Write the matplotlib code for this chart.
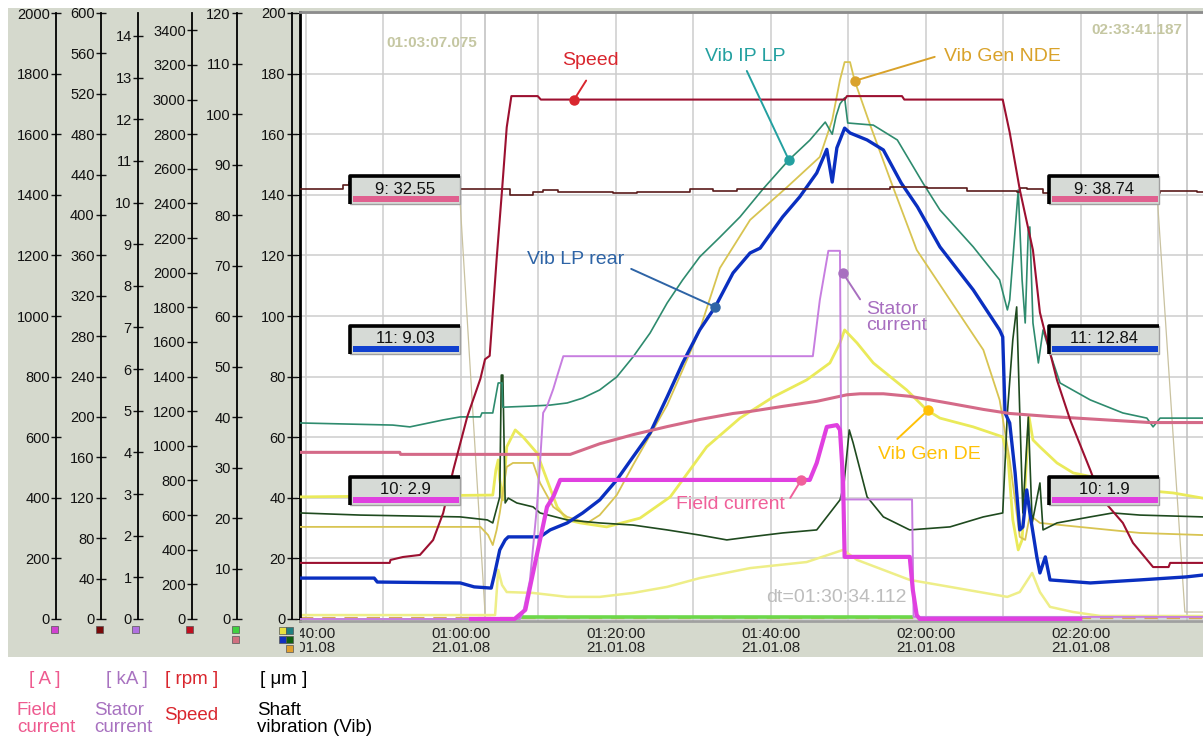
import numpy as np
import matplotlib
matplotlib.use("Agg")
import matplotlib.pyplot as plt
from matplotlib.patches import Rectangle
import matplotlib.transforms as mtransforms
from matplotlib.ticker import FuncFormatter

plt.rcParams['font.family'] = ['Liberation Sans', 'DejaVu Sans']

# ---------------- data (time in minutes after 00:00 on 21.01.08) ----------------
speed_t = [39.2, 50.8, 50.9, 52.5, 54.7, 56.4, 57.7, 59.0, 60.8, 62.5, 63.1, 63.7, 64.6, 65.3,
           65.9, 66.5, 69.9, 70.3, 109.5, 109.8, 116.9, 117.2, 129.9, 130.8, 132.1, 133.8,
           134.7, 136.9, 138.6, 141.2, 142.5, 145.4, 146.7, 149.3, 151.3, 151.5, 155.7]
speed_rpm = [324, 324, 341, 358, 370, 456, 612, 860, 1167, 1387, 1500, 1520, 2080, 2480,
             2840, 3020, 3020, 3000, 3000, 3020, 3020, 3000, 3000, 2810, 2480, 2130,
             1770, 1380, 1150, 860, 705, 555, 440, 300, 300, 324, 324]

ch2_t = [39.2, 43.5, 44.8, 45.5, 59.9, 66.3, 68.9, 69.3, 70.6, 72.5, 79.6, 82.7, 89.5, 92.5,
         95.6, 115.4, 120.1, 125.3, 131.7, 132.1, 133.0, 135.1, 150.2, 155.0, 155.7]
ch2_v = [426, 426, 430, 433, 426, 420, 420, 423, 425, 423, 422, 423, 426, 424,
         426, 428, 427, 424, 423, 427, 426, 422, 424, 423, 423]

ch9_t = [39.2, 52.1, 52.2, 74.1, 77.9, 82.2, 86.6, 90.8, 95.1, 97.3, 101.5, 105.9, 109.8,
         111.5, 114.5, 117.9, 123.1, 127.4, 130.8, 136.0, 140.3, 144.6, 148.9, 155.7]
ch9_v = [33.0, 33.0, 32.6, 32.6, 34.7, 36.5, 38.1, 39.5, 40.7, 41.1, 42.1, 43.1, 44.4,
         44.6, 44.6, 44.1, 42.7, 41.5, 40.7, 40.1, 39.7, 39.3, 38.9, 38.9]

iplp_t = [39.2, 51.2, 53.4, 56.4, 57.7, 59.9, 62.5, 62.7, 64.1, 64.8, 65.3, 65.4, 69.3, 71.5,
          73.7, 75.7, 77.9, 80.1, 82.2, 84.4, 86.6, 88.6, 90.8, 93.4, 96.0, 99.0, 102.3,
          105.0, 107.0, 107.9, 108.4, 108.9, 109.5, 109.9, 113.2, 116.3, 119.6, 121.8, 126.1,
          129.5, 130.5, 130.8, 131.5, 131.9, 132.4, 132.8, 133.2, 133.4, 133.8, 134.5, 135.1,
          136.0, 137.3, 141.2, 145.4, 148.5, 149.3, 150.2, 155.7]
iplp_v = [64.7, 64.0, 63.4, 65.0, 65.7, 66.7, 66.7, 68.0, 68.0, 77.9, 77.9, 69.9, 70.3, 70.6,
          71.3, 72.9, 75.6, 79.9, 86.5, 94.4, 104.3, 111.9, 119.5, 126.0, 132.7, 142.0, 151.5,
          158.0, 164.0, 160.0, 166.0, 170.0, 172.0, 163.7, 163.0, 158.1, 143.9, 135.0, 122.8,
          111.9, 102.0, 105.3, 128.4, 141.6, 111.9, 97.7, 128.4, 129.4, 97.7, 84.5, 95.4,
          87.8, 77.9, 72.3, 68.0, 66.3, 63.4, 66.3, 66.3]

dg_t = [39.2, 47.0, 59.9, 63.4, 64.1, 65.0, 65.2, 65.4, 65.7, 66.1, 67.2, 69.3, 70.2, 73.7,
        77.9, 82.2, 86.6, 90.8, 94.3, 97.3, 101.5, 105.9, 107.6, 108.9, 109.4, 110.1, 110.6,
        112.4, 114.5, 117.9, 123.1, 127.4, 129.9, 130.5, 131.2, 131.7, 132.1, 132.5, 133.2,
        133.7, 134.7, 135.1, 136.9, 141.2, 144.1, 147.6, 155.7]
dg_v = [35.0, 34.3, 33.7, 32.7, 31.7, 40.3, 80.5, 80.5, 38.3, 39.9, 38.3, 37.0, 35.0, 32.7,
        31.7, 31.0, 29.4, 27.7, 26.1, 27.1, 28.4, 29.4, 35.0, 39.3, 44.2, 62.4, 58.1,
        40.3, 33.7, 29.4, 30.4, 33.7, 35.0, 68.0, 92.1, 103.0, 68.0, 35.0, 66.7,
        31.7, 44.9, 29.4, 31.7, 33.7, 35.0, 34.3, 33.7]

lprear_t = [39.2, 48.8, 49.2, 59.9, 61.7, 63.9, 64.3, 65.0, 65.7, 66.1, 66.7, 69.3, 70.2, 71.5,
            73.7, 75.7, 77.9, 80.1, 82.2, 84.4, 86.6, 88.6, 90.8, 92.8, 95.1, 97.3, 98.6,
            101.5, 103.7, 105.9, 107.2, 107.9, 108.5, 108.9, 109.5, 110.2, 112.4, 114.5,
            116.8, 118.9, 121.8, 126.1, 129.5, 129.9, 130.2, 130.8, 131.5, 132.1, 132.5,
            133.0, 133.4, 134.3, 134.7, 135.4, 136.0, 141.2, 147.6, 153.6, 155.7]
lprear_v = [13.5, 13.5, 12.2, 11.9, 10.6, 10.2, 14.5, 22.8, 26.1, 27.1, 27.1, 27.1, 27.1, 29.4,
            31.7, 35.0, 39.3, 45.9, 53.5, 61.4, 73.3, 84.5, 95.4, 103.0, 114.2, 120.8, 122.4,
            132.7, 139.3, 147.2, 155.0, 144.2, 155.5, 158.1, 162.0, 160.4, 158.1, 154.8,
            143.9, 136.0, 122.8, 108.6, 95.4, 93.1, 68.0, 64.7, 48.2, 29.4, 30.4,
            42.6, 35.0, 20.5, 15.2, 20.5, 12.9, 11.9, 12.9, 13.9, 14.5]

nde_t = [39.2, 62.5, 63.5, 64.1, 64.6, 65.0, 65.9, 66.7, 69.3, 70.2, 71.9, 73.7, 76.3, 77.9,
         80.1, 82.2, 84.4, 86.6, 88.6, 90.8, 93.4, 97.3, 102.1, 106.3, 107.9, 108.9, 109.5,
         110.2, 110.8, 112.8, 115.4, 118.8, 123.1, 127.4, 129.5, 130.8, 132.1, 132.8, 133.4,
         134.7, 147.6, 155.7]
nde_v = [30.4, 30.4, 27.7, 24.4, 29.4, 35.0, 50.2, 51.5, 51.5, 44.9, 37.0, 33.7, 31.7, 34.3,
         40.9, 50.8, 60.7, 70.6, 82.2, 95.4, 115.8, 131.7, 142.6, 152.5, 164.7, 177.9, 183.8,
         183.8, 177.6, 163.0, 144.9, 121.8, 105.3, 88.8, 72.3, 52.5, 27.1, 26.1, 34.3,
         31.7, 28.4, 27.7]

de_t = [39.2, 64.1, 64.5, 64.8, 65.0, 65.4, 65.9, 67.0, 68.0, 69.8, 71.1, 72.4, 73.7, 75.4,
        78.8, 83.1, 87.0, 91.7, 96.0, 100.3, 104.6, 107.6, 108.9, 109.5, 111.1, 113.2, 117.5,
        120.1, 121.8, 126.1, 129.9, 130.6, 131.2, 131.9, 132.4, 132.9, 133.3, 133.8, 134.7,
        136.9, 139.0, 143.4, 147.6, 151.9, 155.7]
de_v = [40.3, 40.9, 49.2, 52.5, 45.9, 39.3, 56.8, 62.4, 60.1, 54.8, 45.9, 37.0, 32.7, 31.7,
        30.4, 33.3, 40.3, 56.8, 66.3, 73.3, 78.9, 84.5, 91.1, 95.4, 91.1, 84.5, 75.6,
        69.0, 66.3, 63.4, 60.1, 52.5, 32.7, 22.8, 26.1, 49.2, 66.7, 59.1, 56.8,
        51.5, 48.2, 45.9, 42.6, 41.6, 39.9]

low_t = [39.2, 64.4, 64.8, 65.3, 65.9, 69.3, 73.7, 77.9, 82.2, 86.6, 90.8, 97.3, 104.6, 109.3,
         111.1, 117.9, 123.1, 130.5, 132.1, 133.7, 134.7, 136.0, 139.0, 142.5, 155.7]
low_v = [1.3, 1.3, 16.2, 11.2, 8.9, 8.6, 7.3, 7.3, 8.6, 10.6, 13.5, 16.8, 18.8, 22.8,
         19.5, 12.9, 10.6, 7.3, 8.9, 15.2, 8.9, 4.0, 2.3, 1.0, 1.0]

stator_t = [39.2, 67.6, 68.0, 68.9, 69.8, 70.2, 70.6, 71.1, 71.9, 72.4, 73.2, 105.4, 106.3,
            107.4, 108.6, 108.9, 109.1, 118.2, 118.4, 155.7]
stator_kA = [0.0, 0.0, 0.14, 0.94, 2.70, 3.76, 4.95, 5.11, 5.52, 5.83, 6.31, 6.31, 7.66,
             8.84, 8.84, 8.84, 2.87, 2.87, 0.05, 0.05]

field_t = [61.3, 66.9, 68.3, 69.1, 70.2, 71.1, 71.9, 72.8, 105.0, 105.9, 107.2, 108.5, 108.9,
           109.3, 109.5, 117.9, 118.3, 118.8, 119.2, 139.9]
field_A = [0, 0, 30, 129, 261, 370, 403, 459, 459, 515, 634, 640, 624,
           459, 205, 205, 96, 13, 0, 0]

green_t = [67.6, 118.1]
green_v = [0.4, 0.4]

base_t = [39.2, 155.7]
base_v = [0.2, 0.2]

aux_t = [59.9, 63.1, np.nan, 149.9, 153.4, 155.7]
aux_v = [137, 2.0, np.nan, 137, 2.3, 2.3]

cursor_t = [63.118, 153.686]
cursor_lbl = ["01:03:07.075", "02:33:41.187"]
dt_lbl = "dt=01:30:34.112"

box_texts_left = ["9: 32.55", "11: 9.03", "10: 2.9"]
box_texts_right = ["9: 38.74", "11: 12.84", "10: 1.9"]

xtick_t = [40, 60, 80, 100, 120, 140, 160]
xtick_lbl = ["00:40:00\n21.01.08", "01:00:00\n21.01.08", "01:20:00\n21.01.08",
             "01:40:00\n21.01.08", "02:00:00\n21.01.08", "02:20:00\n21.01.08",
             "02:40:00\n21.01.08"]

# callout anchor values (time, value in own unit)
speed_dot = (74.6, 3000)
iplp_dot = (102.3, 151.5)
nde_dot = (110.8, 177.6)
lprear_dot = (92.8, 103.0)
stator_dot = (109.3, 8.3)
de_dot = (120.3, 69.0)
field_dot = (103.9, 459)

# ---------------- layout ----------------
W, H = 1203, 740
fig = plt.figure(figsize=(W / 100, H / 100), dpi=100)
fig.patch.set_facecolor('white')


def fx(x):
    return x / W


def fy(y):
    return 1 - y / H


GRAY = '#d5d9cd'
fig.patches.append(Rectangle((fx(8), fy(657)), fx(1203) - fx(8), (657 - 8) / H,
                             transform=fig.transFigure, facecolor=GRAY, edgecolor='none', zorder=-5))

AX_TOP, AX_BOT = 12, 621


def ylim_for(m):
    return (-2 / 606 * m, m * (1 + 1 / 606))


X0, X1 = 39.226, 155.742
ax = fig.add_axes([fx(300), fy(AX_BOT), fx(1203) - fx(300), (AX_BOT - AX_TOP) / H])
ax.set_facecolor('white')
ax.set_xlim(X0, X1)
ax.set_ylim(*ylim_for(200))
ax.set_yticks(np.arange(0, 201, 20))
ax.tick_params(axis='y', left=False, labelleft=False, right=False)
ax.set_xticks(xtick_t)
ax.set_xticklabels(xtick_lbl, fontsize=11, color='#222222', linespacing=1.05)
ax.set_xticks(np.arange(40, 161, 10), minor=True)
ax.tick_params(axis='x', which='both', length=0, pad=4)
ax.grid(True, which='both', axis='x', color='#cdcdcd', lw=1.1)
ax.grid(True, which='major', axis='y', color='#cdcdcd', lw=1.1)
ax.set_axisbelow(True)
ax.spines['left'].set_color('black')
ax.spines['left'].set_linewidth(2)
ax.spines['top'].set_color('#8c8c8c')
ax.spines['top'].set_linewidth(2)
ax.spines['bottom'].set_color('#a0a0a0')
ax.spines['bottom'].set_linewidth(2)
ax.spines['right'].set_visible(False)
ax.set_xlim(X0, X1)

clipbb = mtransforms.TransformedBbox(mtransforms.Bbox([[fx(300), 0], [1, 1]]), fig.transFigure)
for lab in ax.get_xticklabels():
    lab.set_clip_on(True)
    lab.set_clip_box(clipbb)

# cursors
for ct in cursor_t:
    ax.axvline(ct, color='#c4c4c4', lw=1.2, zorder=1)

# vibration lines on micrometre axis
ax.plot(base_t, base_v, color='#d9a857', lw=1.6, dashes=(6, 4), zorder=2)
ax.plot(aux_t, aux_v, color='#c9c2a0', lw=0.9, zorder=2)
ax.plot(low_t, low_v, color='#eeee88', lw=1.8, zorder=2)
ax.plot(de_t, de_v, color='#eaea5a', lw=2.0, zorder=3)
ax.plot(nde_t, nde_v, color='#d8c452', lw=1.3, zorder=3)
ax.plot(dg_t, dg_v, color='#1f4a1f', lw=1.2, zorder=3)
ax.plot(iplp_t, iplp_v, color='#2e8b6e', lw=1.2, zorder=3)
ax.plot(lprear_t, lprear_v, color='#0a2fc0', lw=2.4, zorder=4)


def twin(m):
    a = ax.twinx()
    a.set_ylim(*ylim_for(m))
    a.set_xlim(X0, X1)
    a.set_axis_off()
    return a


ax120 = twin(120)
ax120.plot(ch9_t, ch9_v, color='#d46a88', lw=2.2)
ax120.plot(green_t, green_v, color='#6cd84a', lw=2.6)

ax600 = twin(600)
ax600.plot(ch2_t, ch2_v, color='#5a1a1a', lw=1.2, drawstyle='steps-post')

axkA = twin(14.55)
axkA.plot(stator_t, stator_kA, color='#c77ee0', lw=1.4)

axrpm = twin(3500)
axrpm.plot(speed_t, speed_rpm, color='#9c1030', lw=1.5)

axA = twin(2000)
axA.plot(field_t, field_A, color='#e040e0', lw=3)

ov = twin(200)

# cursor labels
ov.annotate(cursor_lbl[0], xy=(cursor_t[0], 1), xycoords=('data', 'axes fraction'),
            xytext=(-8, -31), textcoords='offset pixels', ha='right', va='center',
            fontsize=11, fontweight='bold', color='#c5c7a2')
ov.annotate(cursor_lbl[1], xy=(cursor_t[1], 1), xycoords=('data', 'axes fraction'),
            xytext=(-5, -18), textcoords='offset pixels', ha='right', va='center',
            fontsize=11, fontweight='bold', color='#c5c7a2')
ov.text((cursor_t[0] + cursor_t[1]) / 2, (AX_BOT - 598) / (AX_BOT - AX_TOP), dt_lbl,
        transform=ov.get_xaxis_transform(), ha='center', va='center', fontsize=14,
        color='#bdbdbd')


# value boxes
def value_box(t, v, text, bar_color):
    tr = mtransforms.IdentityTransform() + mtransforms.ScaledTranslation(t, v, ov.transData)
    ov.add_patch(Rectangle((0, -28), 110, 28, transform=tr, facecolor='#d6dad6',
                           edgecolor='#a0a0a0', lw=1, clip_on=False, zorder=30))
    ov.add_patch(Rectangle((3, -26), 106, 6, transform=tr, facecolor=bar_color,
                           edgecolor='none', clip_on=False, zorder=31))
    ov.plot([0, 0, 110], [-28, 0, 0], transform=tr, color='black', lw=2.6,
            clip_on=False, zorder=32, solid_capstyle='butt')
    ov.text(55, -13, text, transform=tr, ha='center', va='center', fontsize=12,
            color='#111111', zorder=33)


box_colors = ['#e0608f', '#1040d0', '#e040e0']
box_v = [146.2, 96.7, 46.9]
for txt, bv, bc in zip(box_texts_left, box_v, box_colors):
    value_box(45.68, bv, txt, bc)
for txt, bv, bc in zip(box_texts_right, box_v, box_colors):
    value_box(135.87, bv, txt, bc)


# callouts
def callout(src, pt, label, color, line_off, text_off, ha='center', dot=None):
    ov.plot([pt[0]], [pt[1]], 'o', ms=6.5, color=dot or color, transform=src.transData,
            zorder=41, clip_on=False)
    ov.annotate('', xy=pt, xycoords=src.transData, xytext=line_off,
                textcoords='offset pixels',
                arrowprops=dict(arrowstyle='-', color=dot or color, lw=1.4,
                                shrinkA=0, shrinkB=0), zorder=40)
    ov.annotate(label, xy=pt, xycoords=src.transData, xytext=text_off,
                textcoords='offset pixels', ha=ha, va='center', fontsize=14,
                color=color, zorder=42, linespacing=0.95)


callout(axrpm, speed_dot, 'Speed', '#d9262e', (12, 19), (16, 39))
callout(ax, iplp_dot, 'Vib IP LP', '#23a0a0', (-42, 89), (-44, 103))
callout(ax, nde_dot, 'Vib Gen NDE', '#d9a22a', (80, 24), (89, 24), ha='left')
callout(ax, lprear_dot, 'Vib LP rear', '#2e64a6', (-84, 38), (-140, 47))
callout(axkA, stator_dot, 'Stator\ncurrent', '#a86fc0', (17, -26), (23, -44), ha='left')
callout(ax, de_dot, 'Vib Gen DE', '#ffc107', (-31, -29), (1, -45))
callout(axA, field_dot, 'Field current', '#f0609a', (-11, -18), (-71, -25))

# ---------------- left scale axes ----------------
scales = [(56, 2000, 200, 2000), (101, 600, 40, 600), (138, 14.55, 1, 14),
          (192, 3500, 200, 3400), (237, 120, 10, 120), (292, 200, 20, 200)]
for xp, m, step, top in scales:
    a = fig.add_axes([fx(xp), fy(AX_BOT), 0.0001, (AX_BOT - AX_TOP) / H])
    a.set_ylim(*ylim_for(m))
    a.patch.set_visible(False)
    for s in ['top', 'right', 'bottom']:
        a.spines[s].set_visible(False)
    a.spines['left'].set_bounds(0, m)
    a.spines['left'].set_linewidth(1.3)
    a.set_xticks([])
    a.set_yticks(np.arange(0, top + step / 2, step))
    a.yaxis.set_major_formatter(FuncFormatter(lambda v, p: f"{v:g}"))
    a.tick_params(axis='y', direction='inout', length=7, width=1, labelsize=10.5,
                  pad=1, colors='#111111')

# flags under scales
flags = [(51, 626, '#d040d0'), (96, 626, '#7a0a0a'), (132, 626, '#b070e0'),
         (186, 626, '#c01020'), (232, 626, '#40d040'), (232, 636, '#d07080'),
         (279, 627, '#e8e040'), (286, 627, '#208080'), (279, 636, '#1030c0'),
         (286, 636, '#106010'), (286, 645, '#e0a030')]
for xp, yp, c in flags:
    fig.patches.append(Rectangle((fx(xp), fy(yp + 7)), 7 / W, 7 / H, transform=fig.transFigure,
                                 facecolor=c, edgecolor='#555555', lw=0.5, zorder=5))

# ---------------- bottom unit labels ----------------
PINK, PURPLE, RED = '#ee5a8f', '#a872c0', '#d9262e'
fig.text(fx(45), fy(679), '[ A ]', color=PINK, fontsize=13.5, ha='center', va='center')
fig.text(fx(127), fy(679), '[ kA ]', color=PURPLE, fontsize=13.5, ha='center', va='center')
fig.text(fx(192), fy(679), '[ rpm ]', color=RED, fontsize=13.5, ha='center', va='center')
fig.text(fx(284), fy(679), '[ \u03bcm ]', color='black', fontsize=13.5, ha='center', va='center')
fig.text(fx(17), fy(719), 'Field\ncurrent', color=PINK, fontsize=13.5, ha='left', va='center',
         linespacing=0.95)
fig.text(fx(94), fy(719), 'Stator\ncurrent', color=PURPLE, fontsize=13.5, ha='left',
         va='center', linespacing=0.95)
fig.text(fx(164), fy(716), 'Speed', color=RED, fontsize=13.5, ha='left', va='center')
fig.text(fx(257), fy(719), 'Shaft\nvibration (Vib)', color='black', fontsize=13.5, ha='left',
         va='center', linespacing=0.95)

fig.savefig('out.png', dpi=100, facecolor='white')
